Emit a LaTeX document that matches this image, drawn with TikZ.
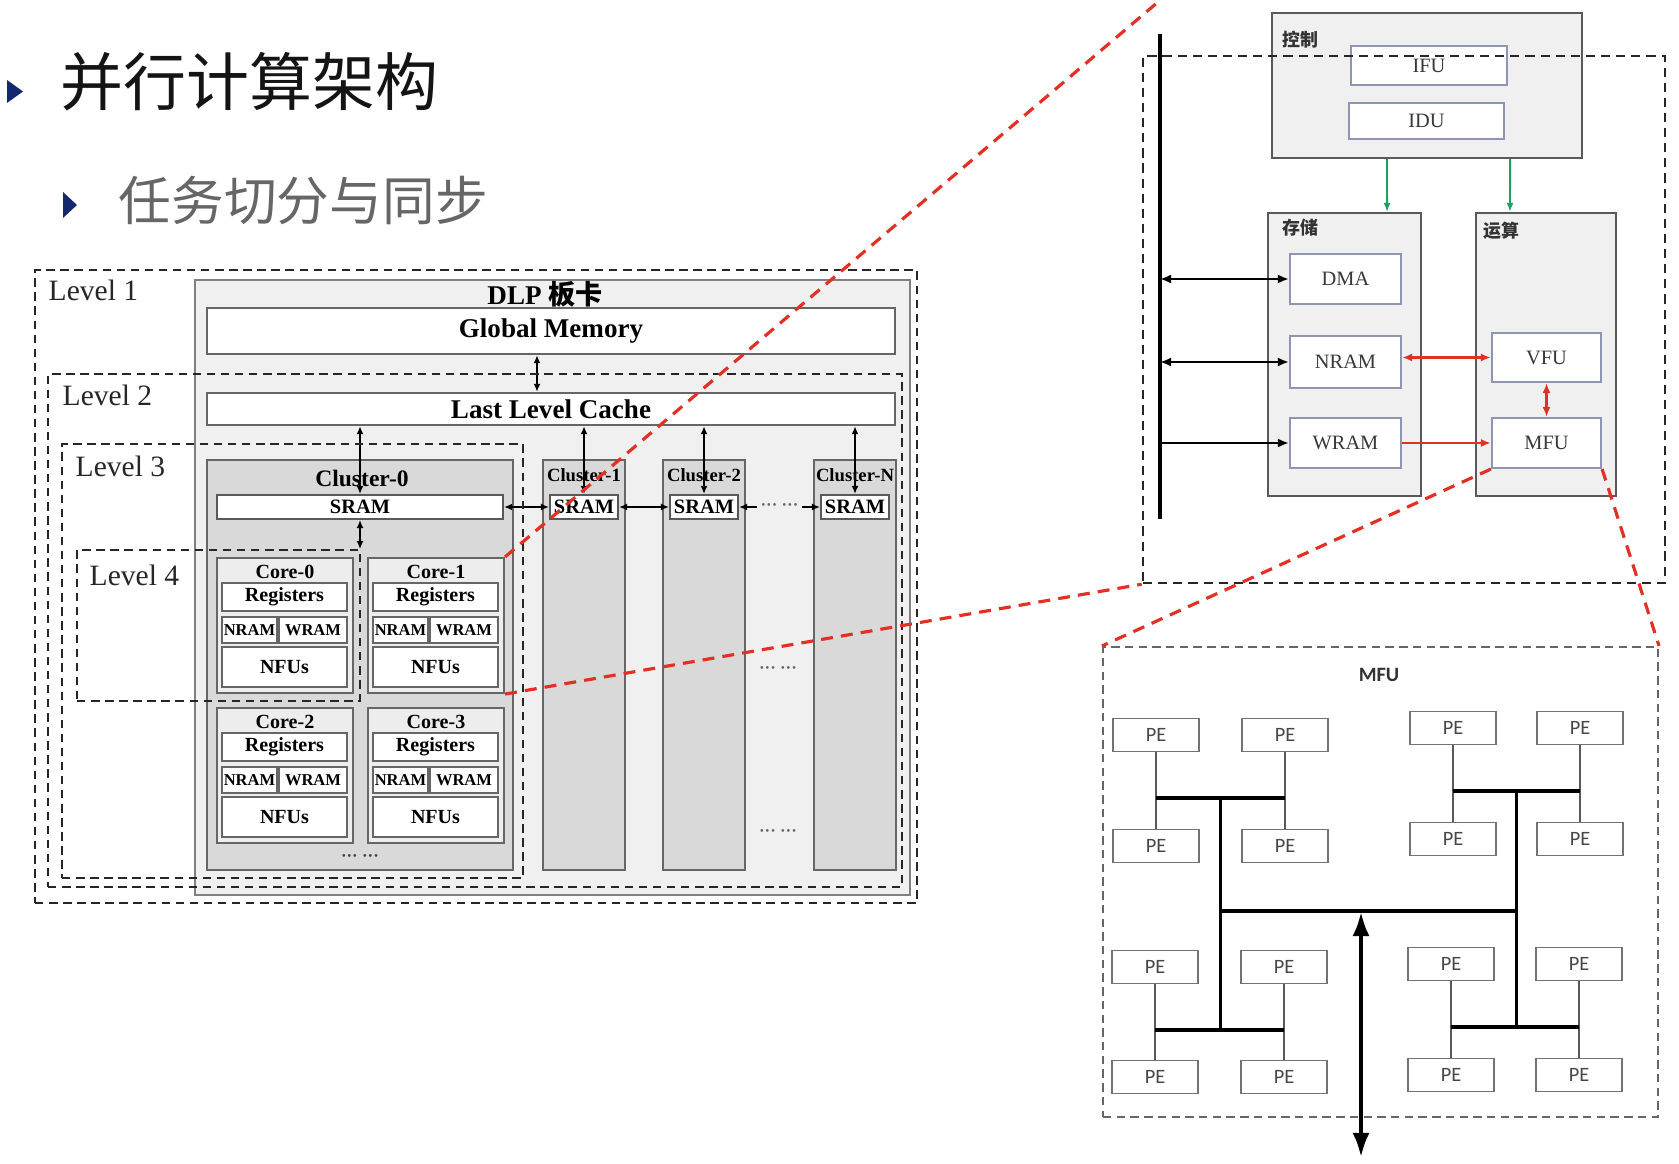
\documentclass[tikz,border=0pt]{standalone}
\usepackage{fontspec}
\setmainfont{Liberation Serif}
\newfontfamily\cjk{Noto Sans CJK SC}
\newfontfamily\pefont{Carlito}
\usetikzlibrary{arrows.meta, fit, calc}
\definecolor{navybullet}{RGB}{20,40,110}
\definecolor{zoomred}{RGB}{226,48,36}
\definecolor{ctrlgreen}{RGB}{30,160,95}
\definecolor{boxedge}{RGB}{140,150,178}
\newcommand{\fsz}[1]{\fontsize{#1}{#1}\selectfont}
\newcommand{\gapdots}{\bfseries ···\ ···}

\begin{document}
\begin{tikzpicture}[x=0.01cm, y=-0.01cm,
  boxsize/.style 2 args={minimum width=#1, minimum height=#2},
  levelbox/.style={draw=black!85, line width=0.75pt, dash pattern=on 2.4pt off 1.6pt, inner sep=0pt},
  levellab/.style={anchor=west, inner sep=0pt, font=\fsz{8.4}, text=black!85},
  board/.style={draw=black!50, fill=black!6, line width=0.7pt, inner sep=0pt},
  membox/.style={draw=black!60, fill=white, line width=0.7pt, inner sep=0pt, font=\bfseries\fsz{7.7}},
  clusterbox/.style={draw=black!60, fill=black!15, line width=0.6pt, inner sep=0pt},
  srambox/.style={draw=black!65, fill=white, line width=0.6pt, inner sep=0pt, font=\bfseries\fsz{5.8}},
  corebox/.style={draw=black!60, fill=black!7, line width=0.6pt, inner sep=0pt},
  partbox/.style={draw=black!60, fill=white, line width=0.6pt, inner sep=0pt, font=\bfseries\fsz{5.7}},
  dotlab/.style={inner sep=1pt, font=\fsz{4.8}, text=black!60},
  link/.style={>={Latex[length=0.8mm,width=0.7mm]}, <->, line width=0.45pt},
  unitbox/.style={draw=black!65, fill=black!6, line width=0.6pt, inner sep=0pt},
  subbox/.style={draw=boxedge, fill=white, line width=0.6pt, inner sep=0pt, font=\fsz{5.8}, text=black!78},
  cjklab/.style={anchor=west, inner sep=0pt, font=\cjk\bfseries\fsz{5.1}, text=black!80},
  barrow/.style={>={Latex[length=1.1mm,width=0.9mm]}, line width=0.6pt},
  rarrow/.style={>={Latex[length=1mm,width=0.8mm]}, draw=zoomred, line width=0.6pt},
  garrow/.style={-{Latex[length=0.9mm,width=0.7mm]}, draw=ctrlgreen, line width=0.55pt},
  zoomline/.style={draw=zoomred, line width=0.9pt, dash pattern=on 3.4pt off 2.3pt},
  pebox/.style={draw=black!55, fill=white, line width=0.5pt, minimum width=0.86cm, minimum height=0.33cm, inner sep=0pt, font=\pefont\fsz{5.8}, text=black!72},
  pelink/.style={draw=black!65, line width=0.5pt},
  pebar/.style={draw=black, line width=1.1pt},
]
\useasboundingbox (0,0) rectangle (1679,1164);

% Slide titles
\fill[navybullet] (7,80) -- (23,91.5) -- (7,103) -- cycle;
\node[anchor=west, inner sep=0pt, font=\cjk\fsz{17.9}, text=black!92] (title) at (60,82) {并行计算架构};
\fill[navybullet] (63,192) -- (77,205) -- (63,218) -- cycle;
\node[anchor=west, inner sep=0pt, font=\cjk\fsz{15}, text=black!60] (subtitle) at (118,201) {任务切分与同步};

% DLP board
\node[board, fit={(195,280) (910,895)}] (board) {};
\node[font=\bfseries\fsz{7.7}] (boardlab) at (545,294) {DLP {\cjk 板卡}};
\node[membox, boxsize={6.88cm}{0.46cm}] (gm) at (551,331) {Global Memory};
\node[membox, boxsize={6.88cm}{0.32cm}] (llc) at (551,409) {Last Level Cache};
\draw[link] ([xshift=-0.14cm]gm.south) -- ([xshift=-0.14cm]llc.north);

% Cluster-0 with its cores
\node[clusterbox, fit={(207,460) (513,870)}] (cluster0) {};
\node[font=\bfseries\fsz{6.7}] (clusterlab0) at (362,478) {Cluster-0};
\node[srambox, boxsize={2.86cm}{0.24cm}] (sram0) at (360,507) {SRAM};
\draw[link] (llc.south -| sram0.north) -- (sram0.north);
\coordinate (coretop) at (360,549);
\draw[link] (sram0.south) -- (coretop);
\foreach \i/\cx/\cy in {0/217/558, 1/368/558, 2/217/708, 3/368/708} {
  \node[corebox, fit={(\cx,\cy) (\cx+136,\cy+135)}] (core\i) {};
  \node[font=\bfseries\fsz{5.7}] (corelab\i) at (\cx+68,\cy+14) {Core-\i};
  \node[partbox, boxsize={1.25cm}{0.28cm}] (reg\i) at (\cx+67.5,\cy+39) {Registers};
  \node[partbox, font=\bfseries\fsz{4.7}, boxsize={0.55cm}{0.26cm}] (nram\i) at (\cx+32.5,\cy+72) {NRAM};
  \node[partbox, font=\bfseries\fsz{4.7}, boxsize={0.68cm}{0.26cm}] (wram\i) at (\cx+96,\cy+72) {WRAM};
  \node[partbox, boxsize={1.25cm}{0.40cm}] (nfu\i) at (\cx+67.5,\cy+109) {NFUs};
}
\node[dotlab, text=black!75] (coredots) at (360,858) {\gapdots};

% Other clusters
\foreach \n/\cx in {1/543, 2/663, N/814} {
  \node[clusterbox, fit={(\cx,460) (\cx+82,870)}] (cluster\n) {};
  \node[font=\bfseries\fsz{5.3}] (clusterlab\n) at (\cx+41,475) {Cluster-\n};
  \node[srambox, boxsize={0.68cm}{0.24cm}] (sram\n) at (\cx+41,507) {SRAM};
  \draw[link] (llc.south -| sram\n.north) -- (sram\n.north);
}
\draw[link] (sram0.east) -- (sram1.west);
\draw[link] (sram1.east) -- (sram2.west);
\draw[link] (sram2.east) -- node[dotlab, fill=black!6] (sramdots) {\gapdots} (sramN.west);
\node[dotlab] (coldots1) at (778,670) {\gapdots};
\node[dotlab] (coldots2) at (778,833) {\gapdots};

% Levels
\node[levelbox, fit={(35,270) (917,903)}] (level1) {};
\node[levelbox, fit={(48,374) (902,887)}] (level2) {};
\node[levelbox, fit={(62,444) (523,878)}] (level3) {};
\node[levelbox, fit={(77,550) (360,701)}] (level4) {};
\node[levellab] (levellab1) at (48,290) {Level 1};
\node[levellab] (levellab2) at (62,395) {Level 2};
\node[levellab] (levellab3) at (75,466) {Level 3};
\node[levellab] (levellab4) at (89,575) {Level 4};

% Core detail: control, storage, compute
\node[unitbox, fit={(1272,13) (1582,158)}] (ctrl) {};
\node[cjklab] (ctrllab) at (1282,40) {控制};
\node[subbox, boxsize={1.56cm}{0.39cm}] (ifu) at (1429,65.5) {IFU};
\node[subbox, boxsize={1.55cm}{0.36cm}] (idu) at (1426.5,121) {IDU};
\node[unitbox, fit={(1268,213) (1421,496)}] (store) {};
\node[cjklab] (storelab) at (1282,228) {存储};
\node[unitbox, fit={(1476,213) (1616,496)}] (compute) {};
\node[cjklab] (computelab) at (1483,231) {运算};
\node[subbox, boxsize={1.11cm}{0.50cm}] (dma) at (1345.5,279) {DMA};
\node[subbox, boxsize={1.11cm}{0.52cm}] (nramR) at (1345.5,362) {NRAM};
\node[subbox, boxsize={1.11cm}{0.50cm}] (wramR) at (1345.5,443) {WRAM};
\node[subbox, boxsize={1.09cm}{0.49cm}] (vfu) at (1546.5,357.5) {VFU};
\node[subbox, boxsize={1.09cm}{0.50cm}] (mfu) at (1546.5,443) {MFU};
\draw[garrow] ([xshift=-0.4cm]ctrl.south) -- ([xshift=0.425cm]store.north);
\draw[garrow] ([xshift=0.83cm]ctrl.south) -- ([xshift=-0.36cm]compute.north);

% bus
\coordinate (bustop) at (1160,34);
\coordinate (busbot) at (1160,519);
\draw[line width=1.1pt] (bustop) -- (busbot);
\draw[barrow, <->] (bustop |- dma.west) -- (dma.west);
\draw[barrow, <->] (bustop |- nramR.west) -- (nramR.west);
\draw[barrow, ->] (bustop |- wramR.west) -- (wramR.west);
\draw[rarrow, <->] (nramR.east |- vfu.west) -- (vfu.west);
\draw[rarrow, <->] (vfu.south) -- (mfu.north);
\draw[rarrow, ->] (wramR.east) -- (mfu.west);
\node[draw=black!85, line width=0.7pt, dash pattern=on 2.6pt off 1.7pt, inner sep=0pt, fit={(1143,56) (1665,583)}] (zoomA) {};

% MFU detail
\node[draw=black!60, line width=0.6pt, dash pattern=on 2.4pt off 1.5pt, inner sep=0pt, fit={(1103,647) (1658,1117)}] (mfubox) {};
\node[font=\pefont\bfseries\fsz{5.8}, text=black!80] (mfulab) at (1379,675) {MFU};
\foreach \g/\xa/\xb/\ya/\yb in {a/1156/1285/735/846, b/1453/1580/728/839, c/1155/1284/967/1077, d/1451/1579/964/1075} {
  \node[pebox] (pe\g1) at (\xa,\ya) {PE};
  \node[pebox] (pe\g2) at (\xb,\ya) {PE};
  \node[pebox] (pe\g3) at (\xa,\yb) {PE};
  \node[pebox] (pe\g4) at (\xb,\yb) {PE};
  \draw[pelink] (pe\g1) -- (pe\g3);
  \draw[pelink] (pe\g2) -- (pe\g4);
  \coordinate (barl\g) at ($(pe\g1)!0.57!(pe\g3)$);
  \coordinate (barr\g) at ($(pe\g2)!0.57!(pe\g4)$);
  \coordinate (mid\g) at ($(barl\g)!0.5!(barr\g)$);
  \draw[pebar] (barl\g) -- (barr\g);
}
\draw[pebar] (mida) -- (mida |- midc);
\draw[pebar] (midb) -- (midb |- midd);
\coordinate (hub) at (1361,911);
\coordinate (busout) at (1361,1158);
\draw[pebar, line width=1.4pt] (mida |- hub) -- (midb |- hub);
\draw[line width=1.4pt, {Latex[length=2.5mm,width=1.7mm]}-{Latex[length=2.5mm,width=1.7mm]}] (hub) -- (busout);

% Zoom lines
\coordinate (zoomtip) at (1158,2);
\draw[zoomline] (core1.north east) -- (zoomtip);
\draw[zoomline] (core1.south east) -- (zoomA.south west);
\draw[zoomline] (mfu.south west) -- (mfubox.north west);
\draw[zoomline] (mfu.south east) -- (mfubox.north east);
\end{tikzpicture}
\end{document}
